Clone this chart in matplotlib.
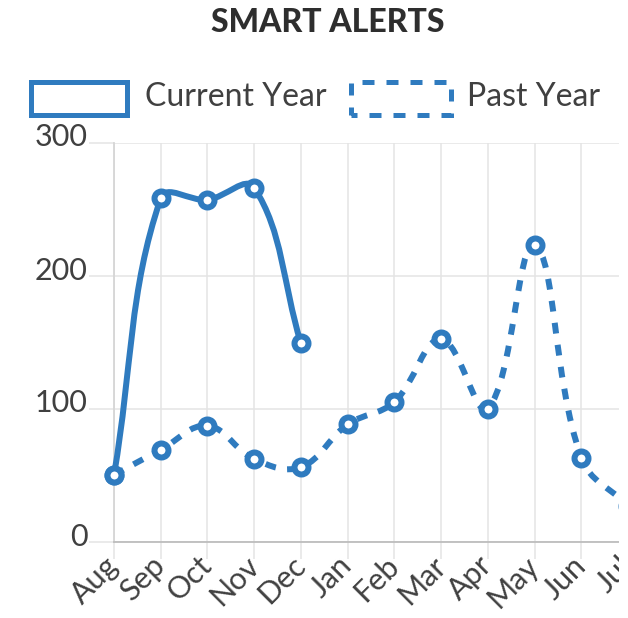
import matplotlib
matplotlib.use("Agg")
import matplotlib.pyplot as plt
import matplotlib.transforms as mtransforms
from matplotlib.path import Path
from matplotlib.patches import PathPatch, Rectangle
import numpy as np

# datos
meses = ["Aug", "Sep", "Oct", "Nov", "Dec", "Jan", "Feb", "Mar", "Apr", "May", "Jun", "Jul"]
actual = [50, 258, 257, 266, 149]
pasado = [50, 69, 87, 62, 56, 88, 105, 152, 100, 223, 63, 27]
yticks = [0, 100, 200, 300]

azul = "#2f7bbf"
texto = "#404040"
plt.rcParams["font.family"] = ["Lato", "DejaVu Sans"]

W, H = 628, 618
fig = plt.figure(figsize=(W / 100, H / 100), dpi=100)

# area del grafico en pixeles (se sale por la derecha, como en el original)
x0, x1, y0, y1 = 114, 628, 541.5, 142.5
ax = fig.add_axes([x0 / W, 1 - y0 / H, (x1 - x0) / W, (y0 - y1) / H])
ax.set_xlim(0, len(meses) - 1)
ax.set_ylim(0, 300)

sx = (x1 - x0) / (len(meses) - 1)  # px por mes
sy = (y0 - y1) / 300.0             # px por unidad


def curva(valores, tension=0.4):
    # curva tipo Chart.js (bezier cubica) calculada en pixeles
    p = np.array([[i * sx, v * sy] for i, v in enumerate(valores)], dtype=float)
    n = len(p)
    cp_prev = p.copy()
    cp_next = p.copy()
    for i in range(n):
        prev = p[max(i - 1, 0)]
        nxt = p[min(i + 1, n - 1)]
        d01 = np.hypot(*(p[i] - prev))
        d12 = np.hypot(*(nxt - p[i]))
        tot = d01 + d12
        s01 = d01 / tot if tot else 0
        s12 = d12 / tot if tot else 0
        cp_prev[i] = p[i] - tension * s01 * (nxt - prev)
        cp_next[i] = p[i] + tension * s12 * (nxt - prev)
    verts = [p[0]]
    codes = [Path.MOVETO]
    for i in range(1, n):
        verts += [cp_next[i - 1], cp_prev[i], p[i]]
        codes += [Path.CURVE4] * 3
    verts = np.array(verts)
    verts[:, 0] /= sx
    verts[:, 1] = np.clip(verts[:, 1], 0, 300 * sy) / sy
    return Path(verts, codes)


lw = 6 * 0.72
ms = 14 * 0.72
mew = 6 * 0.72

x_pas = np.arange(len(pasado))
x_act = np.arange(len(actual))

pp = PathPatch(curva(pasado), fill=False, edgecolor=azul, lw=lw,
               linestyle=(0, (1.8, 1.9)), capstyle="butt", clip_on=False, zorder=3)
ax.add_patch(pp)
ax.plot(x_pas, pasado, "o", ms=ms, mfc="white", mec=azul, mew=mew, clip_on=False, zorder=4)

pa = PathPatch(curva(actual), fill=False, edgecolor=azul, lw=lw,
               joinstyle="round", capstyle="round", clip_on=False, zorder=5)
ax.add_patch(pa)
ax.plot(x_act, actual, "o", ms=ms, mfc="white", mec=azul, mew=mew, clip_on=False, zorder=6)

# ejes y rejilla
ax.set_xticks(range(len(meses)))
ax.set_xticklabels(meses, rotation=45, ha="right", va="center", rotation_mode="anchor")
ax.set_yticks(yticks)
ax.grid(True, color="#e4e4e4", lw=1.1)
ax.set_axisbelow(True)
for s in ["top", "right"]:
    ax.spines[s].set_visible(False)
ax.spines["left"].set_color("#d6d6d6")
ax.spines["left"].set_linewidth(1.3)
ax.spines["bottom"].set_color("#bdbdbd")
ax.spines["bottom"].set_linewidth(1.3)
ax.tick_params(axis="y", length=18, width=1.1, color="#e4e4e4", labelleft=False)
ax.tick_params(axis="x", length=12, width=1.1, color="#e4e4e4", pad=2,
               labelsize=22, labelcolor=texto)

# etiquetas del eje y un poco por encima de la linea, como en Chart.js
tr = mtransforms.offset_copy(ax.get_yaxis_transform(), fig=fig, x=-19, y=3.6, units="points")
for v in yticks:
    ax.text(0, v, str(v), transform=tr, ha="right", va="center",
            fontsize=22, color=texto, clip_on=False)

# titulo
fig.text(327.5 / W, 1 - 22 / H, "SMART ALERTS", ha="center", va="center",
         fontsize=23, fontweight="black", color="#2e2e2e")

# leyenda
def caja(xa, xb, ya, yb, estilo):
    r = Rectangle((xa / W, 1 - yb / H), (xb - xa) / W, (yb - ya) / H,
                  transform=fig.transFigure, fill=False, edgecolor=azul,
                  lw=5 * 0.72, linestyle=estilo, capstyle="butt", joinstyle="miter")
    fig.add_artist(r)

caja(30.5, 127.5, 82.5, 114.5, "solid")
caja(350.5, 450.5, 82.5, 114.5, (1.2, (2.4, 2.4)))
fig.text(145 / W, 1 - 97 / H, "Current Year", ha="left", va="center", fontsize=23, color=texto)
fig.text(467 / W, 1 - 97 / H, "Past Year", ha="left", va="center", fontsize=23, color=texto)

# el lienzo original se corta en x=619
fig.add_artist(Rectangle((619 / W, 0), 1, 1, transform=fig.transFigure,
                         facecolor="white", edgecolor="none", zorder=20))

fig.savefig("out.png", dpi=100, facecolor="white")
